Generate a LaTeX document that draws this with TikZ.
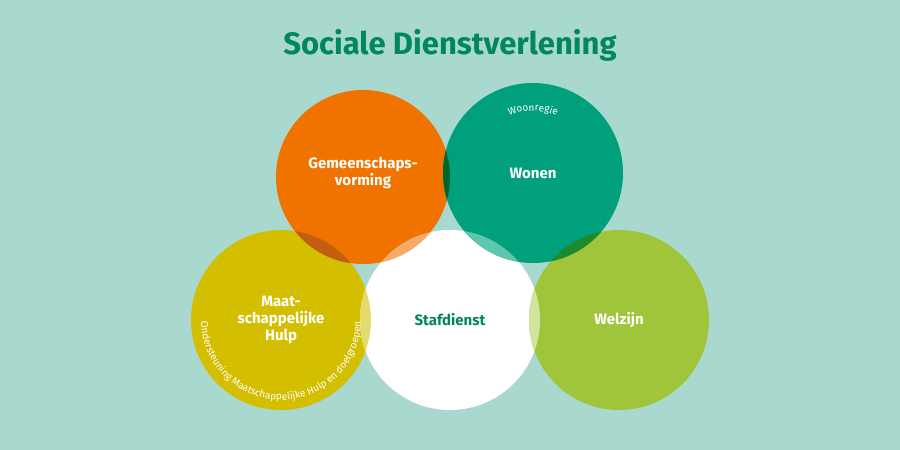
\documentclass[tikz,border=0pt]{standalone}
\usepackage{fontspec}
\setmainfont{Fira Sans}
\usetikzlibrary{decorations.text}
\definecolor{bgc}{HTML}{A8D8CE}
\definecolor{orng}{HTML}{F07300}
\definecolor{grn}{HTML}{00A07C}
\definecolor{ylw}{HTML}{D4BE00}
\definecolor{lgrn}{HTML}{A0C43A}
\definecolor{ttl}{HTML}{00875A}
\definecolor{oxg}{HTML}{00652C}
\definecolor{oxy}{HTML}{C25E12}
\definecolor{oxw}{HTML}{F5AB6A}
\definecolor{gxw}{HTML}{5EC5AE}
\definecolor{gxl}{HTML}{1E8A2C}
\definecolor{yxw}{HTML}{E4DB70}
\definecolor{wxl}{HTML}{D2E59C}
\newcommand{\circOr}{(363,273) circle[radius=87]}
\newcommand{\circGr}{(533,277) circle[radius=90]}
\newcommand{\circYe}{(281,130) circle[radius=90]}
\newcommand{\circWh}{(450,130) circle[radius=90]}
\newcommand{\circLg}{(619,130) circle[radius=90]}
\newcommand{\overlap}[3]{\begin{scope}\clip #1; \fill[#3] #2;\end{scope}}
\begin{document}
\begin{tikzpicture}[x=1pt,y=1pt,
  lbl/.style={text=white,align=center,font=\fontsize{15}{17}\selectfont\bfseries}]
  \fill[bgc] (0,0) rectangle (900,450);
  \node[text=ttl,font=\fontsize{31}{34}\selectfont\bfseries] (title) at (450,405) {Sociale Dienstverlening};

  \fill[ylw] \circYe;
  \fill[white] \circWh;
  \fill[lgrn] \circLg;
  \fill[orng] \circOr;
  \fill[grn] \circGr;
  \overlap{\circOr}{\circGr}{oxg}
  \overlap{\circOr}{\circYe}{oxy}
  \overlap{\circOr}{\circWh}{oxw}
  \overlap{\circGr}{\circWh}{gxw}
  \overlap{\circGr}{\circLg}{gxl}
  \overlap{\circYe}{\circWh}{yxw}
  \overlap{\circWh}{\circLg}{wxl}

  \node[lbl] (gem) at (363,277) {Gemeenschaps-\\vorming};
  \node[lbl] (won) at (533,277) {Wonen};
  \node[lbl] (maa) at (281,130) {Maat-\\schappelijke\\Hulp};
  \node[lbl,text=ttl] (sta) at (450,130) {Stafdienst};
  \node[lbl] (wel) at (619,130) {Welzijn};

  \path[decorate,decoration={text along path,text align=center,
    text={|\fontsize{10}{10}\selectfont\color{white}|Woonregie}}]
    (533,277) ++(115:62) arc[start angle=115,end angle=65,radius=62];
  \path[decorate,decoration={text along path,text align=center,
    text={|\fontsize{10}{10}\selectfont\color{white}|Ondersteuning Maatschappelijke Hulp en doelgroepen}}]
    (281,130) ++(165:80) arc[start angle=165,end angle=375,radius=80];
\end{tikzpicture}
\end{document}
